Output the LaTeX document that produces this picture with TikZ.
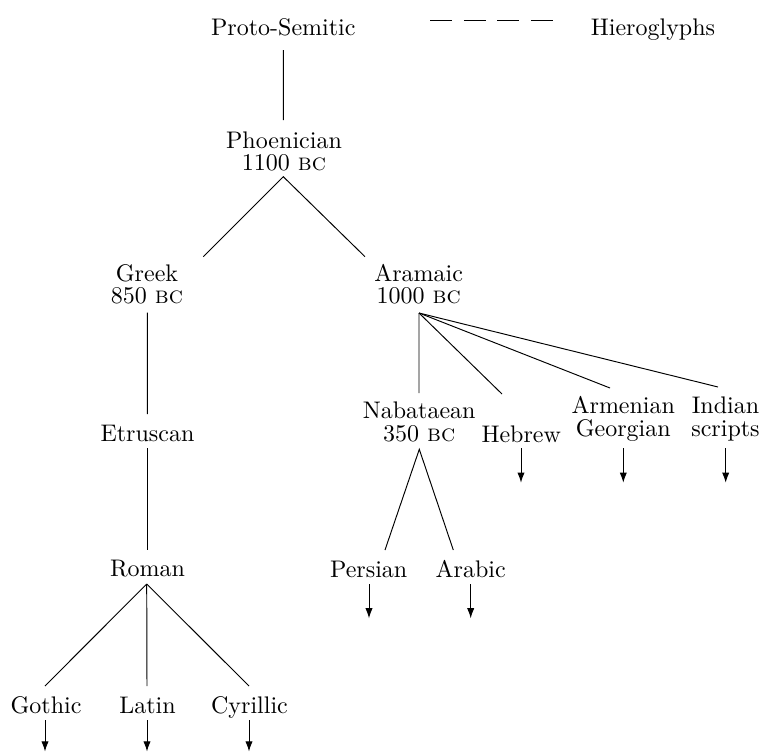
\documentclass[tikz,border=0pt]{standalone}
\usetikzlibrary{arrows.meta,calc}
\begin{document}
\begin{tikzpicture}[x=0.4167pt,y=-0.4167pt,
  lbl/.style={inner sep=0pt, anchor=base, align=center, font=\fontsize{10}{9}\selectfont},
  lbltwo/.style={lbl, font=\fontsize{10}{9.75}\selectfont},
  link/.style={line width=0.4pt},
  down/.style={line width=0.4pt, -{Latex[length=4.2pt,width=3pt]}},
  legendline/.style={line width=0.4pt, dash pattern=on 9.1pt off 4.85pt}]
\useasboundingbox (0,0) rectangle (761,752);

% nodes (base = last-line baseline)
\node[lbl] (ps) at (283.3,35.5) {Proto-Semitic};
\node[lbl] (hi) at (653,35.5) {Hieroglyphs};
\node[lbl] (ph) at (284,170) {Phoenician\\1100 \textsc{bc}};
\node[lbl] (gr) at (147,303.3) {Greek\\850 \textsc{bc}};
\node[lbl] (ar) at (418.7,303.3) {Aramaic\\1000 \textsc{bc}};
\node[lbl] (et) at (147.5,441.7) {Etruscan};
\node[lbl] (ro) at (147.5,576.7) {Roman};
\node[lbl] (go) at (46,713.3) {Gothic};
\node[lbl] (la) at (147.5,713.3) {Latin};
\node[lbl] (cy) at (249.5,713.3) {Cyrillic};
\node[lbltwo] (na) at (419.2,441.7) {Nabataean\\350 \textsc{bc}};
\node[lbl] (he) at (521.2,442.7) {Hebrew};
\node[lbltwo] (am) at (623.3,436.7) {Armenian\\Georgian};
\node[lbltwo] (in) at (725.5,436.7) {Indian\\scripts};
\node[lbl] (pe) at (368.7,577.3) {Persian};
\node[lbl] (ab) at (470.7,577.3) {Arabic};

% legend dashes
\coordinate (d1) at (430.5,20);
\coordinate (d2) at (552.8,20);
\draw[legendline] (d1) -- (d2);

% tree edges
\draw[link] ($(ps.base)+(0,14.5)$) -- ($(ph.base)+(-0.7,-50)$);
\draw[link] ($(gr.base)+(56.3,-46.6)$) -- ($(ph.base)+(-0.7,6.7)$) -- ($(ar.base)+(-53.7,-46.6)$);
\draw[link] ($(gr.base)+(0.3,9.4)$) -- ($(et.base)+(-0.2,-27.7)$);
\draw[link] ($(et.base)+(-0.2,6.3)$) -- ($(ro.base)+(-0.2,-26.7)$);
\draw[link] ($(ro.base)+(-0.8,7.3)$) -- ($(go.base)+(-1,-27.3)$);
\draw[link] ($(ro.base)+(-0.8,7.3)$) -- ($(la.base)+(-0.5,-27.3)$);
\draw[link] ($(ro.base)+(-0.8,7.3)$) -- ($(cy.base)+(-0.5,-27.3)$);
\draw[link] ($(ar.base)+(0.3,9.7)$) -- ($(na.base)+(-0.2,-48.7)$);
\draw[link] ($(ar.base)+(0.3,9.7)$) -- ($(he.base)+(-19.2,-48.7)$);
\draw[link] ($(ar.base)+(0.3,9.7)$) -- ($(am.base)+(-13.3,-48.7)$);
\draw[link] ($(ar.base)+(0.3,9.7)$) -- ($(in.base)+(-7.5,-49.7)$);
\draw[link] ($(pe.base)+(16.3,-27.3)$) -- ($(na.base)+(0.1,7.6)$) -- ($(ab.base)+(-17.4,-27.3)$);

% continuation arrows
\draw[down] ($(go.base)+(-1,6.7)$) -- ($(go.base)+(-1,38.2)$);
\draw[down] ($(la.base)+(-0.5,6.7)$) -- ($(la.base)+(-0.5,38.2)$);
\draw[down] ($(cy.base)+(-0.5,6.7)$) -- ($(cy.base)+(-0.5,38.2)$);
\draw[down] ($(he.base)+(-0.2,5.6)$) -- ($(he.base)+(-0.2,40)$);
\draw[down] ($(am.base)+(0,11.6)$) -- ($(am.base)+(0,46)$);
\draw[down] ($(in.base)+(0.2,11.6)$) -- ($(in.base)+(0.2,46)$);
\draw[down] ($(pe.base)+(0.3,6.7)$) -- ($(pe.base)+(0.3,41)$);
\draw[down] ($(ab.base)+(0,6.7)$) -- ($(ab.base)+(0,41)$);
\end{tikzpicture}
\end{document}
